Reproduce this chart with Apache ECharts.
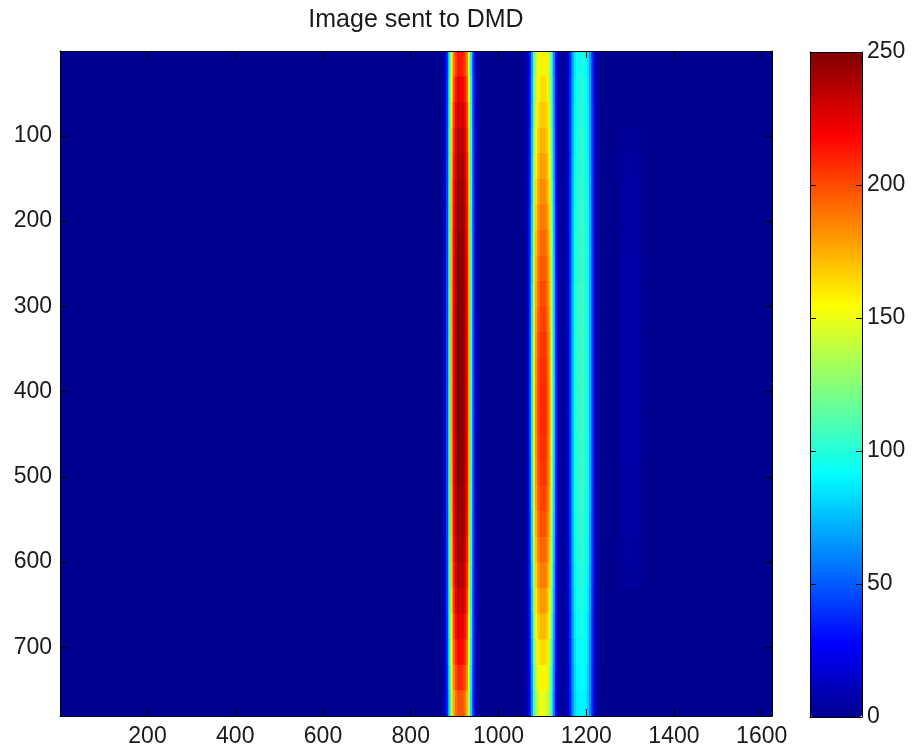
<!DOCTYPE html>
<html><head><meta charset="utf-8">
<script src="https://cdn.jsdelivr.net/npm/echarts@6/dist/echarts.min.js"></script>
<style>html,body{margin:0;padding:0;background:#fff}#chart{width:912px;height:754px}</style>
</head><body><div id="chart"></div>
<script>
// ---------------- data ----------------
const titleText = 'Image sent to DMD';
const imageCols = 1623;          // image width in pixels (x extent)
const imageRows = 780;           // image height in pixels (y extent)
const xTicks = [200, 400, 600, 800, 1000, 1200, 1400, 1600];
const yTicks = [100, 200, 300, 400, 500, 600, 700];
const colorMin = 0, colorMax = 250, colorStep = 50;

// row bands (top -> bottom), 30 image rows each
const rowEdges = [0.5, 30.5, 60.5, 90.5, 120.5, 150.5, 180.5, 210.5, 240.5, 270.5, 300.5, 330.5, 360.5, 390.5,
                  420.5, 450.5, 480.5, 510.5, 540.5, 570.5, 600.5, 630.5, 660.5, 690.5, 720.5, 750.5, 780.5];

// cross-section of a stripe: column offset from its centre and relative level
const profileOffsets = [-40, -35, -30, -25, -20, -15, -10, -5, 0, 5, 10, 15, 20, 25, 30, 35, 40];
const profileLevels  = [0.02, 0.06, 0.18, 0.42, 0.70, 0.88, 0.96, 1, 1, 1, 0.96, 0.88, 0.70, 0.42, 0.18, 0.06, 0.02];

// stripe centre columns
const stripeCentres = [913, 1101, 1189, 1302];
// peak value of each stripe in every row band (top -> bottom)
const stripe1Peak = [212, 222, 230, 236, 240, 243, 245, 247, 248, 249, 250, 250, 250,
                     250, 250, 249, 248, 246, 244, 241, 237, 232, 225, 217, 208, 198];
const stripe2Peak = [158, 163, 168, 173, 178, 183, 188, 192, 196, 199, 202, 205, 207,
                     208, 208, 207, 205, 202, 198, 193, 187, 180, 172, 164, 157, 150];
const stripe3Peak = [97, 99, 100, 101, 102, 103, 104, 105, 105, 106, 106, 106, 106,
                     106, 106, 105, 105, 104, 103, 102, 100, 98, 96, 94, 92, 90];
const stripe4Peak = [0, 0, 0, 3, 5, 6, 6, 6, 7, 7, 7, 7, 7,
                     7, 7, 7, 6, 6, 6, 5, 4, 0, 0, 0, 0, 0];

// ---------------- build cells ----------------
const stripePeaks = [stripe1Peak, stripe2Peak, stripe3Peak, stripe4Peak];
const cells = [[0.5, imageCols + 0.5, 0.5, imageRows + 0.5, 0]];
stripeCentres.forEach(function (c, s) {
  stripePeaks[s].forEach(function (pk, r) {
    if (!pk) return;
    profileOffsets.forEach(function (off, k) {
      cells.push([c + off - 2.5, c + off + 2.5, rowEdges[r], rowEdges[r + 1], pk * profileLevels[k]]);
    });
  });
});

// MATLAB jet(64) colormap
function clamp(v) { return Math.max(0, Math.min(1, v)); }
const jet = [];
for (let i = 1; i <= 64; i++) {
  const r = clamp(Math.min((i - 24) / 16, (72 - i) / 16));
  const g = clamp(Math.min((i - 8) / 16, (56 - i) / 16));
  const b = clamp(Math.min(0.5 + i / 16, (40 - i) / 16));
  jet.push('rgb(' + Math.round(r * 255) + ',' + Math.round(g * 255) + ',' + Math.round(b * 255) + ')');
}

const font = 'Liberation Sans, Arial, sans-serif';
const lbl = { color: '#1a1a1a', fontSize: 23, fontFamily: font, formatter: function (v) { return String(v); } };
const lineStyle = { color: '#000', width: 1 };

function renderCell(params, api) {
  const p0 = api.coord([api.value(0), api.value(2)]);
  const p1 = api.coord([api.value(1), api.value(3)]);
  const x = Math.min(p0[0], p1[0]), y = Math.min(p0[1], p1[1]);
  return {
    type: 'rect',
    shape: { x: x, y: y, width: Math.abs(p1[0] - p0[0]) + 0.6, height: Math.abs(p1[1] - p0[1]) + 0.6 },
    style: { fill: api.visual('color') }
  };
}

const chart = echarts.init(document.getElementById('chart'), null, { renderer: 'canvas' });
chart.setOption({
  backgroundColor: '#fff',
  animation: false,
  title: {
    text: titleText, left: 416, top: 8, padding: 0, textAlign: 'center',
    textStyle: { fontSize: 25, fontWeight: 'normal', color: '#1a1a1a', fontFamily: font }
  },
  grid: [
    { left: 60, top: 51, width: 712, height: 665 },
    { left: 810, top: 52, width: 52, height: 665 }
  ],
  xAxis: [
    { gridIndex: 0, type: 'value', position: 'bottom', min: 0.5, max: imageCols + 0.5, z: 10,
      axisLine: { show: true, onZero: false, lineStyle: lineStyle },
      axisTick: { show: true, inside: true, length: 7, lineStyle: lineStyle, customValues: xTicks },
      axisLabel: Object.assign({ margin: 9, customValues: xTicks }, lbl),
      splitLine: { show: false } },
    { gridIndex: 0, type: 'value', position: 'top', min: 0.5, max: imageCols + 0.5, z: 10,
      axisLine: { show: true, onZero: false, lineStyle: lineStyle },
      axisTick: { show: true, inside: true, length: 7, lineStyle: lineStyle, customValues: xTicks },
      axisLabel: { show: false }, splitLine: { show: false } },
    { gridIndex: 1, type: 'value', position: 'bottom', min: 0, max: 1, z: 10,
      axisLine: { show: true, onZero: false, lineStyle: lineStyle },
      axisTick: { show: false }, axisLabel: { show: false }, splitLine: { show: false } },
    { gridIndex: 1, type: 'value', position: 'top', min: 0, max: 1, z: 10,
      axisLine: { show: true, onZero: false, lineStyle: lineStyle },
      axisTick: { show: false }, axisLabel: { show: false }, splitLine: { show: false } }
  ],
  yAxis: [
    { gridIndex: 0, type: 'value', position: 'left', inverse: true, min: 0.5, max: imageRows + 0.5, z: 10,
      axisLine: { show: true, onZero: false, lineStyle: lineStyle },
      axisTick: { show: true, inside: true, length: 7, lineStyle: lineStyle, customValues: yTicks },
      axisLabel: Object.assign({ margin: 8, customValues: yTicks }, lbl),
      splitLine: { show: false } },
    { gridIndex: 0, type: 'value', position: 'right', inverse: true, min: 0.5, max: imageRows + 0.5, z: 10,
      axisLine: { show: true, onZero: false, lineStyle: lineStyle },
      axisTick: { show: true, inside: true, length: 7, lineStyle: lineStyle, customValues: yTicks },
      axisLabel: { show: false }, splitLine: { show: false } },
    { gridIndex: 1, type: 'value', position: 'left', min: colorMin, max: colorMax, interval: colorStep, z: 10,
      axisLine: { show: true, onZero: false, lineStyle: lineStyle },
      axisTick: { show: true, inside: true, length: 6, lineStyle: lineStyle },
      axisLabel: { show: false }, splitLine: { show: false } },
    { gridIndex: 1, type: 'value', position: 'right', min: colorMin, max: colorMax, interval: colorStep, z: 10,
      axisLine: { show: true, onZero: false, lineStyle: lineStyle },
      axisTick: { show: true, inside: true, length: 6, lineStyle: lineStyle },
      axisLabel: Object.assign({ margin: 5 }, lbl), splitLine: { show: false } }
  ],
  visualMap: {
    type: 'continuous', min: colorMin, max: colorMax, dimension: 4, seriesIndex: 0,
    calculable: false, show: true, left: 810, top: 52, itemWidth: 52, itemHeight: 665,
    padding: 0, hoverLink: false, inRange: { color: jet }, z: 4
  },
  series: [{
    type: 'custom',
    xAxisIndex: 0, yAxisIndex: 0,
    renderItem: renderCell,
    encode: { x: [0, 1], y: [2, 3] },
    clip: true,
    silent: true,
    data: cells
  }]
});
</script></body></html>
